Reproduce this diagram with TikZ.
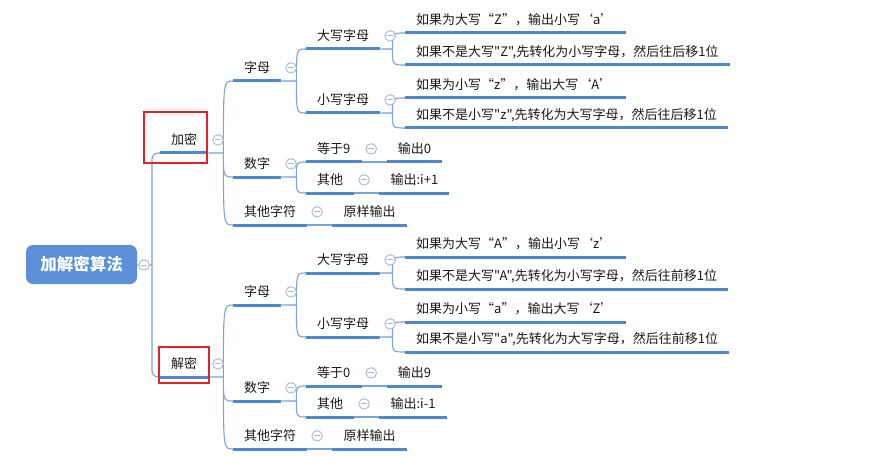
\documentclass[tikz,border=0pt]{standalone}
\usepackage{fontspec}
\newfontfamily\cjkfont{Noto Sans CJK SC}
\usepackage{tikz}
\usetikzlibrary{positioning,calc}
\usepackage{xcolor}
\definecolor{rootblue}{HTML}{5B8FD7}
\definecolor{lineblue}{HTML}{4F87D3}
\definecolor{thinblue}{HTML}{7AA2DB}
\definecolor{foldgray}{HTML}{A3B8DC}
\definecolor{markred}{HTML}{E42128}

\begin{document}
\begin{tikzpicture}[x=1pt, y=1pt, font=\cjkfont\fontsize{13}{15}\selectfont, node distance=25pt]
\tikzset{topic/.style={anchor=south west, inner xsep=11pt, inner ysep=5pt, text height=12.8pt, text depth=3pt, text=black!90},longleaf/.style={text width=199pt},root/.style={fill=rootblue, rounded corners=7pt, minimum width=111pt, minimum height=39pt, text=white, font=\cjkfont\fontsize{16.5}{18}\selectfont\bfseries},uline/.style={lineblue, line width=3pt},link/.style={thinblue, line width=1.1pt},fold/.style={circle, draw=foldgray, fill=white, line width=0.9pt, minimum size=10.5pt, inner sep=0pt, path picture={\draw[foldgray, line width=0.9pt] ([xshift=-3pt]path picture bounding box.center) -- ([xshift=3pt]path picture bounding box.center);}},redmark/.style={markred, line width=1.8pt}}
\path[use as bounding box, fill=white] (0,0) rectangle (882,-457);
% root
\node[root] (rt) at (81.5,-264.5) {加解密算法};
\coordinate (rt-j) at (152,-265);
\node[topic] (jm) at (160,-153) {加密};
\node[topic] (km) at (160,-377) {解密};
% 加密
\node[topic] (jm-zm) at (233,-81) {字母};
\node[topic] (jm-dx) at (306,-49) {大写字母};
\node[topic, longleaf] (jm-dx1) at (405,-33) {如果为大写“Z”，输出小写‘a’};
\node[topic] (jm-dx2) at (405,-65) {如果不是大写"Z",先转化为小写字母，然后往后移1位};
\node[topic] (jm-xx) at (306,-113) {小写字母};
\node[topic, longleaf] (jm-xx1) at (405,-98) {如果为小写“z”，输出大写‘A’};
\node[topic] (jm-xx2) at (405,-128) {如果不是小写"z",先转化为大写字母，然后往后移1位};
\node[topic] (jm-sz) at (233,-177) {数字};
\node[topic] (jm-dy) at (306,-162) {等于9};
\node[topic, right=of jm-dy] (jm-dy1) {输出0};
\node[topic] (jm-qt) at (306,-193) {其他};
\node[topic, right=of jm-qt] (jm-qt1) {输出:i+1};
\node[topic] (jm-qf) at (233,-225) {其他字符};
\node[topic, right=of jm-qf] (jm-qf1) {原样输出};
% 解密
\node[topic] (km-zm) at (233,-305) {字母};
\node[topic] (km-dx) at (306,-273) {大写字母};
\node[topic, longleaf] (km-dx1) at (405,-257) {如果为大写“A”，输出小写‘z’};
\node[topic] (km-dx2) at (405,-289) {如果不是大写"A",先转化为小写字母，然后往前移1位};
\node[topic] (km-xx) at (306,-337) {小写字母};
\node[topic, longleaf] (km-xx1) at (405,-322) {如果为小写“a”，输出大写‘Z’};
\node[topic] (km-xx2) at (405,-352) {如果不是小写"a",先转化为大写字母，然后往前移1位};
\node[topic] (km-sz) at (233,-401) {数字};
\node[topic] (km-dy) at (306,-386) {等于0};
\node[topic, right=of km-dy] (km-dy1) {输出9};
\node[topic] (km-qt) at (306,-417) {其他};
\node[topic, right=of km-qt] (km-qt1) {输出:i-1};
\node[topic] (km-qf) at (233,-449) {其他字符};
\node[topic, right=of km-qf] (km-qf1) {原样输出};
% underlines
\foreach \n in {jm,km,jm-zm,jm-dx,jm-dx1,jm-dx2,jm-xx,jm-xx1,jm-xx2,jm-sz,jm-dy,jm-dy1,jm-qt,jm-qt1,jm-qf,jm-qf1,km-zm,km-dx,km-dx1,km-dx2,km-xx,km-xx1,km-xx2,km-sz,km-dy,km-dy1,km-qt,km-qt1,km-qf,km-qf1}
  \draw[uline] (\n.south west) -- (\n.south east);
% connectors
\draw[link] (rt) -- (rt-j);
\draw[link, rounded corners=6pt] (jm.south west) -| (rt-j) |- (km.south west);
\foreach \p in {jm,km}{
  \coordinate (\p-j) at ($(\p.south east)+(15,0)$);
  \coordinate (\p-zm-j) at ($(\p-zm.south east)+(15,0)$);
  \coordinate (\p-dx-j) at ($(\p-dx.south east)+(12,0)$);
  \coordinate (\p-xx-j) at ($(\p-xx.south east)+(12,0)$);
  \coordinate (\p-sz-j) at ($(\p-sz.south east)+(15,0)$);
  \draw[link] (\p.south east) -- (\p-j) .. controls (\p-j |- \p-zm.south west) .. (\p-zm.south west) (\p-j) .. controls (\p-j |- \p-sz.south west) .. (\p-sz.south west) (\p-j) .. controls (\p-j |- \p-qf.south west) .. (\p-qf.south west);
  \draw[link] (\p-zm.south east) -- (\p-zm-j) .. controls (\p-zm-j |- \p-dx.south west) .. (\p-dx.south west) (\p-zm-j) .. controls (\p-zm-j |- \p-xx.south west) .. (\p-xx.south west);
  \draw[link] (\p-dx.south east) -- (\p-dx-j) .. controls (\p-dx-j |- \p-dx1.south west) .. (\p-dx1.south west) (\p-dx-j) .. controls (\p-dx-j |- \p-dx2.south west) .. (\p-dx2.south west);
  \draw[link] (\p-xx.south east) -- (\p-xx-j) .. controls (\p-xx-j |- \p-xx1.south west) .. (\p-xx1.south west) (\p-xx-j) .. controls (\p-xx-j |- \p-xx2.south west) .. (\p-xx2.south west);
  \draw[link] (\p-sz.south east) -- (\p-sz-j) .. controls (\p-sz-j |- \p-dy.south west) .. (\p-dy.south west) (\p-sz-j) .. controls (\p-sz-j |- \p-qt.south west) .. (\p-qt.south west);
  \draw[link] (\p-dy.south east) -- (\p-dy1.south west) (\p-qt.south east) -- (\p-qt1.south west) (\p-qf.south east) -- (\p-qf1.south west);
  \foreach \f in {\p,\p-zm,\p-dx,\p-xx,\p-sz,\p-dy,\p-qt,\p-qf}
    \node[fold, right=4pt of \f] (\f-f) {};
}
\node[fold] (rt-f) at (144,-265) {};
% marks
\draw[redmark] (144,-112) rectangle (207,-163);
\draw[redmark] (159,-347) rectangle (209,-383);
\end{tikzpicture}
\end{document}
